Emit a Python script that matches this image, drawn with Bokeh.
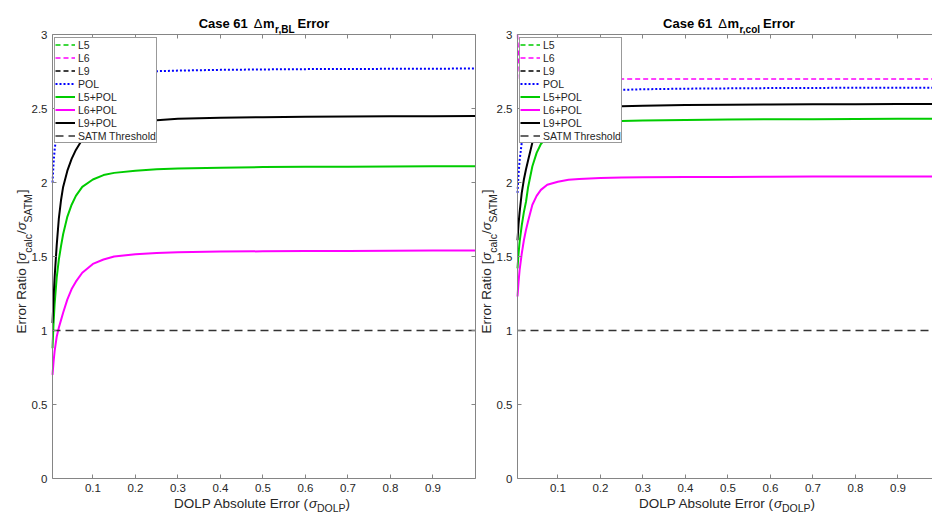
import math

from bokeh.embed import file_html
from bokeh.layouts import row
from bokeh.models import (CustomJSTickFormatter, FixedTicker, Label, Legend,
                          LegendItem, LinearAxis, Range1d)
from bokeh.plotting import figure
from bokeh.resources import INLINE

# ---------------------------------------------------------------- data
# DOLP absolute error samples (sigma_DOLP)
dolp = [0.005, 0.0075, 0.01, 0.015, 0.02, 0.025, 0.03, 0.04, 0.05, 0.06,
        0.075, 0.1, 0.125, 0.15, 0.2, 0.25, 0.3, 0.4, 0.5, 0.6, 0.7, 0.8,
        0.9, 1.0]

# Delta m_r,BL error ratios
bl_pol = [2.00, 2.13, 2.22, 2.34, 2.42, 2.48, 2.52, 2.58, 2.62, 2.65, 2.68,
          2.71, 2.725, 2.735, 2.745, 2.752, 2.756, 2.761, 2.764, 2.766, 2.767,
          2.768, 2.769, 2.77]
bl_l5_pol = [0.88, 1.05, 1.18, 1.36, 1.48, 1.57, 1.65, 1.77, 1.85, 1.91, 1.97,
             2.02, 2.05, 2.065, 2.08, 2.09, 2.095, 2.10, 2.104, 2.106, 2.107,
             2.108, 2.109, 2.11]
bl_l6_pol = [0.70, 0.79, 0.86, 0.96, 1.02, 1.07, 1.12, 1.21, 1.28, 1.33, 1.39,
             1.45, 1.48, 1.50, 1.515, 1.523, 1.528, 1.533, 1.535, 1.537, 1.538,
             1.539, 1.54, 1.54]
bl_l9_pol = [1.05, 1.22, 1.36, 1.58, 1.76, 1.88, 1.97, 2.08, 2.16, 2.22, 2.29,
             2.34, 2.37, 2.39, 2.41, 2.42, 2.43, 2.437, 2.441, 2.444, 2.446,
             2.447, 2.448, 2.45]

# Delta m_r,col error ratios
col_pol = [1.93, 2.06, 2.15, 2.27, 2.34, 2.39, 2.43, 2.48, 2.51, 2.54, 2.56,
           2.585, 2.60, 2.61, 2.62, 2.626, 2.63, 2.634, 2.636, 2.638, 2.639,
           2.64, 2.64, 2.64]
col_l5_pol = [1.42, 1.52, 1.60, 1.71, 1.80, 1.87, 1.97, 2.11, 2.20, 2.26, 2.31,
              2.36, 2.385, 2.395, 2.41, 2.415, 2.419, 2.422, 2.425, 2.427,
              2.428, 2.429, 2.43, 2.43]
col_l6_pol = [1.23, 1.33, 1.41, 1.52, 1.61, 1.68, 1.74, 1.85, 1.91, 1.95,
              1.985, 2.005, 2.018, 2.024, 2.03, 2.033, 2.035, 2.037, 2.038,
              2.039, 2.04, 2.04, 2.04, 2.04]
col_l9_pol = [1.61, 1.72, 1.80, 1.93, 2.02, 2.09, 2.15, 2.27, 2.33, 2.38, 2.42,
              2.46, 2.48, 2.495, 2.508, 2.515, 2.519, 2.523, 2.525, 2.527,
              2.528, 2.529, 2.53, 2.53]

# sensor-only cases (no polarimetry), sampled at a few DOLP values
sensor_x = [0.005, 0.01, 1.0]
bl_l5 = [3.45, 3.45, 3.45]
bl_l6 = [3.25, 3.25, 3.25]
bl_l9 = [3.70, 3.70, 3.70]
col_l5 = [3.30, 3.30, 3.30]
col_l6 = [3.00, 2.70, 2.70]
col_l9 = [3.60, 3.60, 3.60]

threshold_x = [0.005, 1.0]
threshold_y = [1.0, 1.0]

x_ticks = [0.1, 0.2, 0.3, 0.4, 0.5, 0.6, 0.7, 0.8, 0.9]
x_tick_labels = ["0.1", "0.2", "0.3", "0.4", "0.5", "0.6", "0.7", "0.8", "0.9"]
y_ticks = [0, 0.5, 1, 1.5, 2, 2.5, 3]
y_tick_labels = ["0", "0.5", "1", "1.5", "2", "2.5", "3"]

X_LIM = (0.005, 1.0)
Y_LIM = (0.0, 3.0)

# ---------------------------------------------------------------- style
FONT = "Liberation Sans"
TEXT = "#262626"
AXIS = "#858585"
GREEN = "#00cc00"
MAGENTA = "#ff00ff"
BLUE = "#0000ff"
BLACK = "#000000"
THRESH = "#333333"

HEIGHT = 514
AX_W = 423          # axes box width in px
AX_TOP = 34         # axes box top edge (px from the top)
AX_BOTTOM = 478     # axes box bottom edge (px from the top)

# approximate advance widths (1/1000 em) for Liberation Sans
REG = {" ": 278, "(": 333, ")": 333, "[": 278, "]": 278, "/": 278, ",": 278,
       ".": 278, "A": 667, "B": 667, "C": 722, "D": 722, "E": 667, "L": 556,
       "M": 833, "O": 778, "P": 667, "R": 722, "S": 667, "T": 611, "a": 556,
       "b": 556, "c": 500, "e": 556, "i": 222, "l": 222, "m": 833, "o": 556,
       "r": 333, "s": 500, "t": 278, "u": 556, "σ": 580, "Δ": 668}
BOLD = {" ": 278, ",": 278, "C": 722, "B": 722, "E": 667, "L": 611, "a": 556,
        "c": 556, "e": 556, "l": 278, "m": 889, "o": 611, "r": 389, "s": 556,
        "Δ": 722}


def text_width(s, size, style="normal"):
    table = BOLD if style == "bold" else REG
    return sum(table.get(ch, 556) for ch in s) * size / 1000.0


def compose(p, pieces, center, base, vertical=False, color=TEXT):
    """Lay out text pieces (text, size, baseline drop, gap, style) as one label."""
    total = sum(text_width(t, sz, st) + gap for t, sz, _, gap, st in pieces)
    pos = center - total / 2.0
    for t, sz, drop, gap, style in pieces:
        pos += gap
        kw = dict(text=t, x_units="screen", y_units="screen",
                  text_font=FONT, text_font_size=f"{sz}px",
                  text_font_style=style, text_color=color,
                  text_align="left", text_baseline="alphabetic")
        if vertical:
            lab = Label(x=base + drop, y=pos, angle=math.pi / 2, **kw)
        else:
            lab = Label(x=pos, y=base - drop, **kw)
        p.add_layout(lab)
        pos += text_width(t, sz, style)


def style_axis(ax, ticks, location, bounds, labels=None):
    ax.ticker = FixedTicker(ticks=ticks)
    ax.fixed_location = location
    ax.bounds = bounds
    if labels is None:
        ax.formatter = CustomJSTickFormatter(code="return ''")
        ax.major_label_standoff = 0
    else:
        ax.major_label_overrides = dict(zip(ticks, labels))
        ax.major_label_standoff = 5
    ax.axis_line_color = AXIS
    ax.axis_line_width = 1
    ax.major_tick_line_color = AXIS
    ax.major_tick_in = 4
    ax.major_tick_out = 0
    ax.minor_tick_in = 0
    ax.minor_tick_out = 0
    ax.major_label_text_font = FONT
    ax.major_label_text_font_size = "11.5px"
    ax.major_label_text_color = TEXT
    ax.axis_label = None


def make_panel(width, ax_left, curves, sensors, subscript, right_axis):
    # the frame fills the whole canvas; the axes box sits inside it
    sx = AX_W / (X_LIM[1] - X_LIM[0])
    sy = (AX_BOTTOM - AX_TOP) / (Y_LIM[1] - Y_LIM[0])
    x_range = Range1d(X_LIM[0] - ax_left / sx,
                      X_LIM[0] + (width - ax_left) / sx)
    y_range = Range1d(Y_LIM[0] - (HEIGHT - AX_BOTTOM) / sy,
                      Y_LIM[1] + AX_TOP / sy)
    p = figure(width=width, height=HEIGHT, x_range=x_range, y_range=y_range,
               output_backend="svg", toolbar_location=None,
               min_border=0)
    p.title.text = ""
    p.outline_line_color = None
    p.grid.visible = False
    p.background_fill_color = "white"
    p.border_fill_color = "white"

    style_axis(p.xaxis[0], x_ticks, Y_LIM[0], X_LIM, x_tick_labels)
    style_axis(p.yaxis[0], y_ticks, X_LIM[0], Y_LIM, y_tick_labels)
    top = LinearAxis()
    style_axis(top, x_ticks, Y_LIM[1], X_LIM)
    p.add_layout(top, "above")
    if right_axis:
        right = LinearAxis()
        style_axis(right, y_ticks, X_LIM[1], Y_LIM)
        p.add_layout(right, "right")

    l5, l6, l9 = sensors
    pol, l5p, l6p, l9p = curves
    r_l5 = p.line(sensor_x, l5, line_color=GREEN, line_width=1.5, line_dash="5 3")
    r_l6 = p.line(sensor_x, l6, line_color=MAGENTA, line_width=1.5, line_dash="5 3")
    r_l9 = p.line(sensor_x, l9, line_color=BLACK, line_width=1.5, line_dash="5 3")
    r_pol = p.line(dolp, pol, line_color=BLUE, line_width=2, line_dash="2 2")
    r_l5p = p.line(dolp, l5p, line_color=GREEN, line_width=2)
    r_l6p = p.line(dolp, l6p, line_color=MAGENTA, line_width=2)
    r_l9p = p.line(dolp, l9p, line_color=BLACK, line_width=2)
    r_thr = p.line(threshold_x, threshold_y, line_color=THRESH, line_width=1.5,
                   line_dash="8 5")

    items = [LegendItem(label=name, renderers=[r]) for name, r in [
        ("L5", r_l5), ("L6", r_l6), ("L9", r_l9), ("POL", r_pol),
        ("L5+POL", r_l5p), ("L6+POL", r_l6p), ("L9+POL", r_l9p),
        ("SATM Threshold", r_thr)]]
    legend = Legend(items=items, location=(ax_left + 2, HEIGHT - 143),
                    margin=0, padding=0, spacing=0, label_height=13,
                    glyph_height=13, glyph_width=20, label_standoff=3,
                    label_text_font=FONT, label_text_font_size="10.5px",
                    label_text_color=TEXT, border_line_color="#333333",
                    border_line_width=1, background_fill_color="white",
                    background_fill_alpha=1.0)
    p.add_layout(legend)

    # title: Case 61 Δm_{sub} Error
    compose(p, [("Case 61", 13, 0, 0, "bold"), ("Δ", 13, 0, 6, "normal"),
                ("m", 13, 0, 0.5, "bold"), (subscript, 10, 6, 0.5, "bold"),
                ("Error", 13, 0, 2.5, "bold")],
            center=ax_left + AX_W / 2.0, base=HEIGHT - 23, color=BLACK)
    # x label: DOLP Absolute Error (σ_DOLP)
    compose(p, [("DOLP Absolute Error (", 13.5, 0, 0, "normal"),
                ("σ", 13.5, 0, 0, "italic"), ("DOLP", 10.5, 4, 0, "normal"),
                (")", 13.5, 0, 0, "normal")],
            center=ax_left + AX_W / 2.0 - 2, base=HEIGHT - 503)
    # y label: Error Ratio [σ_calc/σ_SATM]
    compose(p, [("Error Ratio [", 13.5, 0, 0, "normal"),
                ("σ", 13.5, 0, 0, "italic"), ("calc", 10.5, 6, 0, "normal"),
                ("/", 13.5, 0, 0, "normal"), ("σ", 13.5, 0, 0, "italic"),
                ("SATM", 10.5, 6, 0, "normal"), ("]", 13.5, 0, 0, "normal")],
            center=HEIGHT - 261, base=ax_left - 31, vertical=True)
    return p


left = make_panel(480, 52, (bl_pol, bl_l5_pol, bl_l6_pol, bl_l9_pol),
                  (bl_l5, bl_l6, bl_l9), "r,BL", True)
right = make_panel(452, 37, (col_pol, col_l5_pol, col_l6_pol, col_l9_pol),
                   (col_l5, col_l6, col_l9), "r,col", False)

layout = row(left, right)
open("out.html", "w").write(file_html(layout, INLINE))
